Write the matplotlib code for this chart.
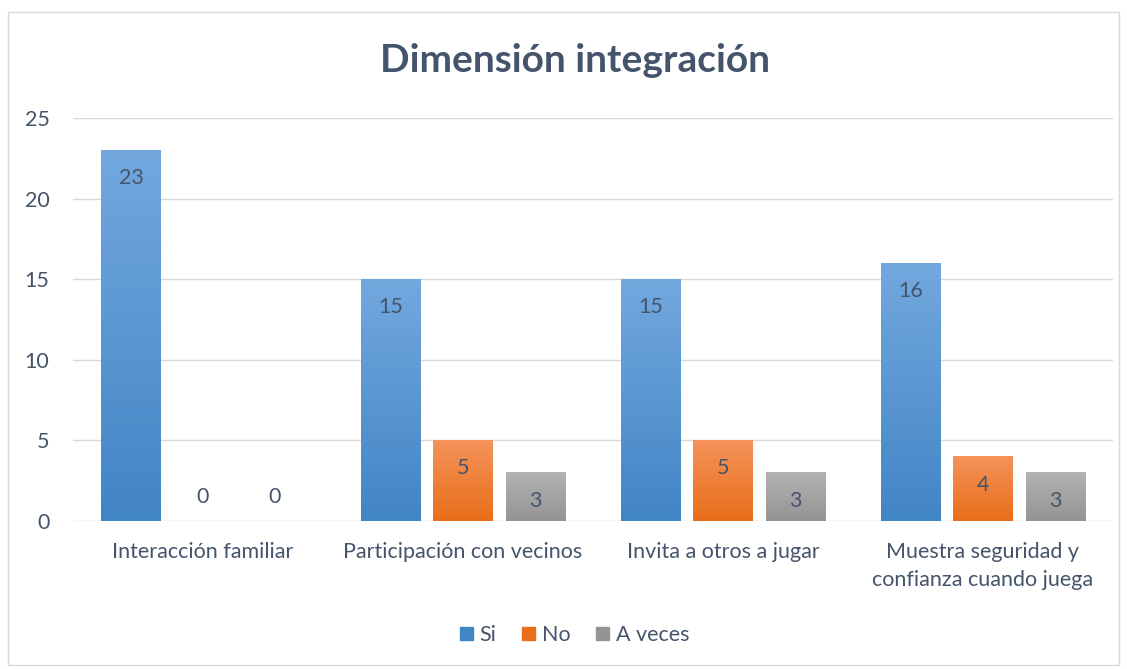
import numpy as np
import matplotlib.pyplot as plt
from matplotlib.colors import LinearSegmentedColormap
from matplotlib.patches import Rectangle

categories = ["Interacción familiar", "Participación con vecinos",
              "Invita a otros a jugar", "Muestra seguridad y\nconfianza cuando juega"]
series_names = ["Si", "No", "A veces"]
si = [23, 15, 15, 16]
no = [0, 5, 5, 4]
a_veces = [0, 3, 3, 3]
yticks = [0, 5, 10, 15, 20, 25]

# (top colour, bottom colour) for the gradient fill
grads = [("#72a8de", "#4285c5"), ("#f5935a", "#e86e1a"), ("#b3b3b3", "#949494")]
text_col = "#44546a"
fs = 15.5

plt.rcParams['font.family'] = ['Lato', 'DejaVu Sans']

fig = plt.figure(figsize=(11.27, 6.69), dpi=100)
fig.patches.append(Rectangle((8 / 1127, 4 / 669), 1111 / 1127, 653 / 669,
                             transform=fig.transFigure, fill=False,
                             edgecolor="#d9d9d9", linewidth=1))
ax = fig.add_axes([73 / 1127, 1 - 521 / 669, 1040 / 1127, 403 / 669])

x = np.arange(len(categories))
width = 0.227
step = 0.277
grad = np.linspace(0, 1, 100).reshape(-1, 1)

for i, (name, vals) in enumerate(zip(series_names, [si, no, a_veces])):
    pos = x + (i - 1) * step
    bars = ax.bar(pos, vals, width, color=grads[i][1], label=name, zorder=2)
    cmap = LinearSegmentedColormap.from_list("g%d" % i, [grads[i][1], grads[i][0]])
    for b, v in zip(bars, vals):
        if v > 0:
            b.set_alpha(0)
            ax.imshow(grad, cmap=cmap, origin="lower", aspect="auto", zorder=2,
                      extent=[b.get_x(), b.get_x() + b.get_width(), 0, v])
        off = -28 if v > 0 else 24
        ax.annotate(str(v), (b.get_x() + b.get_width() / 2, v),
                    xytext=(0, off), textcoords="offset pixels",
                    ha="center", va="center", fontsize=fs, color=text_col)

ax.set_xlim(-0.5, len(categories) - 0.5)
ax.set_ylim(0, 25)
ax.set_yticks(yticks)
ax.set_xticks(x)
ax.set_xticklabels(categories, fontsize=fs, color=text_col, linespacing=1.5)
ax.tick_params(axis="y", labelsize=fs, colors=text_col, length=0, pad=17)
ax.tick_params(axis="x", length=0, pad=15, colors=text_col)
ax.grid(axis="y", color="#d9d9d9", linewidth=1, zorder=0)
ax.set_axisbelow(True)
for s in ax.spines.values():
    s.set_visible(False)

fig.text(0.51, 1 - 61 / 669, "Dimensión integración", ha="center", va="center",
         fontsize=28, fontweight="bold", color=text_col)

leg = fig.legend(loc="center", bbox_to_anchor=(0.51, 1 - 635 / 669), ncol=3,
                 frameon=False, fontsize=fs, handlelength=0.6, handleheight=0.6,
                 handletextpad=0.3, columnspacing=1.2)
for t in leg.get_texts():
    t.set_color(text_col)
for h, c in zip(leg.legend_handles, grads):
    h.set_alpha(1)
    h.set_color(c[1])

fig.savefig("out.png", dpi=100)
